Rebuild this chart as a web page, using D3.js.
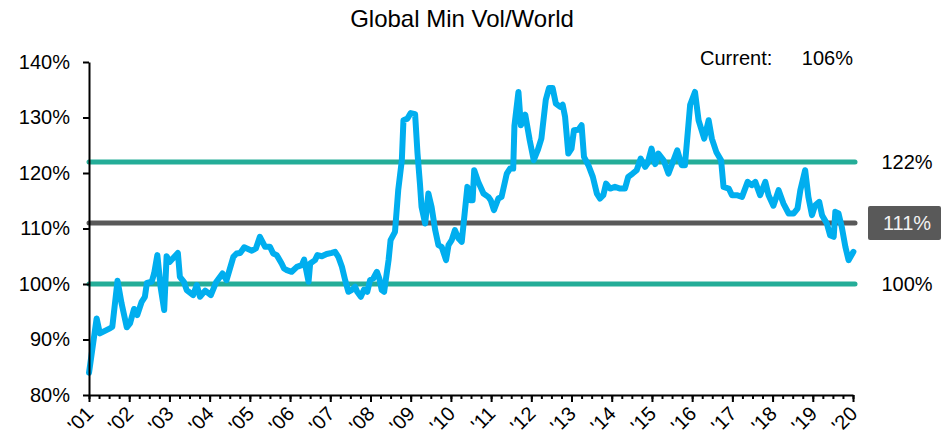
<!DOCTYPE html>
<html>
<head>
<meta charset="utf-8">
<script src="https://cdn.jsdelivr.net/npm/d3@7"></script>
<style>
  body { margin: 0; background: #fff; }
  svg { font-family: "Liberation Sans", Arial, sans-serif; }
  .axis path, .axis line { stroke: #000; }
  .axis text { fill: #000; }
</style>
</head>
<body>
<div id="chart"></div>
<script>
// decimal year of each observation
var dates = [
  2001.00, 2001.19, 2001.27, 2001.52, 2001.58, 2001.71, 2001.81, 2001.94,
  2002.02, 2002.12, 2002.20, 2002.31, 2002.39, 2002.44, 2002.56, 2002.62, 2002.70, 2002.78, 2002.87, 2002.93,
  2003.01, 2003.21, 2003.26, 2003.36, 2003.43, 2003.59, 2003.68, 2003.76, 2003.89,
  2004.03, 2004.16, 2004.32, 2004.42, 2004.59, 2004.67, 2004.76, 2004.86,
  2005.05, 2005.15, 2005.25, 2005.38, 2005.50, 2005.58, 2005.67, 2005.79, 2005.85, 2005.92,
  2006.04, 2006.17, 2006.29, 2006.35, 2006.46, 2006.50, 2006.62, 2006.68, 2006.79, 2006.91,
  2007.04, 2007.12, 2007.20, 2007.29, 2007.37, 2007.45, 2007.53, 2007.62, 2007.67, 2007.76, 2007.84, 2007.92, 2007.99,
  2008.07, 2008.16, 2008.22, 2008.28, 2008.34, 2008.45, 2008.50, 2008.61, 2008.69, 2008.78, 2008.82, 2008.92,
  2009.00, 2009.11, 2009.17, 2009.23, 2009.27, 2009.36, 2009.44, 2009.52, 2009.61, 2009.69, 2009.77, 2009.88, 2009.94,
  2010.02, 2010.10, 2010.19, 2010.27, 2010.35, 2010.41, 2010.48, 2010.54, 2010.58, 2010.68, 2010.81, 2010.93, 2010.99,
  2011.07, 2011.18, 2011.26, 2011.39, 2011.47, 2011.55, 2011.58, 2011.68, 2011.74, 2011.85, 2011.96,
  2012.06, 2012.16, 2012.25, 2012.36, 2012.44, 2012.53, 2012.61, 2012.72, 2012.78, 2012.84, 2012.92,
  2013.00, 2013.06, 2013.17, 2013.25, 2013.31, 2013.42, 2013.53, 2013.63, 2013.71, 2013.79, 2013.86, 2013.96,
  2014.08, 2014.21, 2014.33, 2014.41, 2014.52, 2014.62, 2014.72, 2014.83, 2014.89, 2014.99,
  2015.08, 2015.16, 2015.29, 2015.41, 2015.49, 2015.63, 2015.74, 2015.82, 2015.95,
  2016.07, 2016.16, 2016.30, 2016.41, 2016.49, 2016.60, 2016.72, 2016.78, 2016.91, 2016.99,
  2017.11, 2017.24, 2017.38, 2017.48, 2017.57, 2017.69, 2017.82, 2017.90,
  2018.02, 2018.15, 2018.27, 2018.40, 2018.52, 2018.62, 2018.69, 2018.81, 2018.89, 2018.98,
  2019.06, 2019.16, 2019.23, 2019.35, 2019.43, 2019.52, 2019.56, 2019.64, 2019.72, 2019.81, 2019.89, 2020.01
];

// relative value, Global Min Vol / World (%)
var ratio = [
  84.0, 93.8, 91.1, 92.0, 92.3, 100.6, 96.5, 92.2,
  92.9, 95.5, 94.4, 96.8, 97.7, 100.2, 100.4, 101.9, 105.2, 99.5, 95.3, 105.0,
  104.0, 105.6, 101.3, 100.4, 98.9, 98.0, 99.8, 97.7, 98.8,
  98.0, 100.3, 101.9, 100.7, 104.9, 105.5, 105.6, 106.6,
  106.0, 106.4, 108.5, 106.7, 106.7, 105.5, 105.2, 103.7, 102.8, 102.5,
  102.2, 103.1, 103.4, 104.4, 100.4, 103.7, 104.3, 105.2, 105.0, 105.4,
  105.6, 105.8, 104.9, 103.1, 100.7, 98.6, 98.9, 99.5, 98.6, 97.7, 99.0, 98.6, 100.7,
  101.0, 102.2, 101.0, 98.9, 98.6, 104.3, 107.9, 109.4, 116.9, 122.3, 129.5, 129.8,
  130.8, 130.6, 123.5, 118.1, 113.9, 110.9, 116.3, 113.9, 109.7, 107.0, 106.7, 104.3, 107.0,
  107.9, 109.7, 108.2, 107.6, 113.3, 117.5, 115.1, 115.1, 120.5, 118.4, 116.3, 115.7, 115.1,
  113.3, 115.4, 115.7, 119.9, 120.8, 120.8, 128.5, 134.6, 128.6, 130.5, 125.9,
  122.3, 124.1, 126.2, 133.2, 135.3, 135.3, 132.5, 131.9, 132.3, 130.1, 123.5,
  124.4, 127.7, 127.8, 128.6, 122.9, 121.4, 119.3, 116.3, 115.4, 116.0, 118.1, 117.2,
  117.5, 117.2, 117.2, 119.3, 119.9, 120.5, 122.6, 121.1, 121.7, 124.4,
  121.6, 123.5, 122.3, 119.9, 121.4, 124.1, 121.4, 121.4, 132.3,
  134.6, 129.5, 126.2, 129.5, 126.2, 123.8, 122.3, 117.5, 117.2, 116.0,
  116.0, 115.7, 118.4, 117.8, 118.4, 116.0, 118.4, 116.0,
  114.1, 116.9, 114.5, 112.7, 112.7, 113.6, 116.9, 120.5, 115.7, 112.4,
  114.2, 114.8, 112.4, 110.9, 108.8, 108.5, 113.0, 112.7, 110.3, 106.7, 104.3, 105.8
];

var yearTicks = d3.range(2001, 2021);
var yTicks = [80, 90, 100, 110, 120, 130, 140];

// reference levels: +1 sd, average, -1 sd
var refNames = ["upper", "mean", "lower"];
var refValues = [122, 111, 100];
var currentValue = 106;

var width = 943,
    height = 439,
    margin = {left: 89, right: 90, top: 62, bottom: 44};

var svg = d3.select("#chart")
  .append("svg")
  .attr("width", width)
  .attr("height", height);

var x = d3.scaleLinear()
  .domain([2001, 2020])
  .range([margin.left, width - margin.right]);

var y = d3.scaleLinear()
  .domain([80, 140])
  .range([height - margin.bottom, margin.top]);

var green = "#24ad98",
    grey = "#595959",
    blue = "#00aeef";

// title
svg.append("text")
  .attr("x", 462)
  .attr("y", 27)
  .attr("text-anchor", "middle")
  .style("font-size", "24px")
  .text("Global Min Vol/World");

// reference lines
svg.selectAll("line.ref")
  .data(refValues)
  .enter()
  .append("line")
  .attr("class", "ref")
  .attr("x1", x(2001))
  .attr("x2", x(2020) + 2)
  .attr("y1", function (d) { return y(d); })
  .attr("y2", function (d) { return y(d); })
  .attr("stroke", function (d, i) { return refNames[i] == "mean" ? grey : green; })
  .attr("stroke-width", 5)
  .attr("stroke-linecap", "round");

// right labels
refValues.forEach(function (v, i) {
  var lx = 907, ly = y(v);
  if (refNames[i] == "mean") {
    svg.append("rect")
      .attr("x", 868).attr("y", ly - 17)
      .attr("width", 73).attr("height", 34)
      .attr("rx", 2)
      .attr("fill", grey);
  }
  svg.append("text")
    .attr("x", lx)
    .attr("y", ly)
    .attr("dy", "0.36em")
    .attr("text-anchor", "middle")
    .style("font-size", "20px")
    .attr("fill", refNames[i] == "mean" ? "#f2f2f2" : "#000")
    .text(v + "%");
});

// the series
var line = d3.line()
  .x(function (d, i) { return x(dates[i]); })
  .y(function (d) { return y(d); });

svg.append("path")
  .datum(ratio)
  .attr("d", line)
  .attr("fill", "none")
  .attr("stroke", blue)
  .attr("stroke-width", 6)
  .attr("stroke-linejoin", "round")
  .attr("stroke-linecap", "round");

// current value
svg.append("text")
  .attr("x", 700).attr("y", 65)
  .style("font-size", "20px")
  .text("Current:");
svg.append("text")
  .attr("x", 853).attr("y", 65)
  .attr("text-anchor", "end")
  .style("font-size", "20px")
  .text(currentValue + "%");

// y axis
var yAxis = svg.append("g")
  .attr("class", "axis")
  .attr("transform", "translate(" + margin.left + ",0)")
  .call(d3.axisLeft(y).tickValues(yTicks).tickSize(6).tickSizeOuter(0)
    .tickFormat(function (d) { return d + "%"; }));
yAxis.select(".domain").attr("stroke-width", 2);
yAxis.selectAll(".tick line").attr("stroke-width", 2);
yAxis.selectAll("text").style("font-size", "20px").attr("x", -19);

// x axis: quarterly minor ticks, yearly labels
var quarters = d3.range(0, 77).map(function (q) { return 2001 + q / 4; });
var xg = svg.append("g")
  .attr("class", "axis")
  .attr("transform", "translate(0," + y(80) + ")");
xg.call(d3.axisBottom(x).tickValues(quarters).tickSize(4).tickSizeOuter(0).tickFormat(""));
xg.call(function (g) {
  g.select(".domain").attr("stroke-width", 2);
  g.selectAll(".tick line").attr("stroke-width", 2);
});
var xMajor = svg.append("g")
  .attr("class", "axis")
  .attr("transform", "translate(0," + y(80) + ")")
  .call(d3.axisBottom(x).tickValues(yearTicks).tickSize(7).tickSizeOuter(0)
    .tickFormat(function (d) { return "'" + String(d).slice(2); }));
xMajor.select(".domain").remove();
xMajor.selectAll(".tick line").attr("stroke-width", 2);
xMajor.selectAll("text")
  .style("font-size", "20px")
  .attr("text-anchor", "end")
  .attr("dy", "0")
  .attr("transform", "translate(5,20) rotate(-45)")
  .attr("y", 0)
  .attr("x", 0);
</script>
</body>
</html>
